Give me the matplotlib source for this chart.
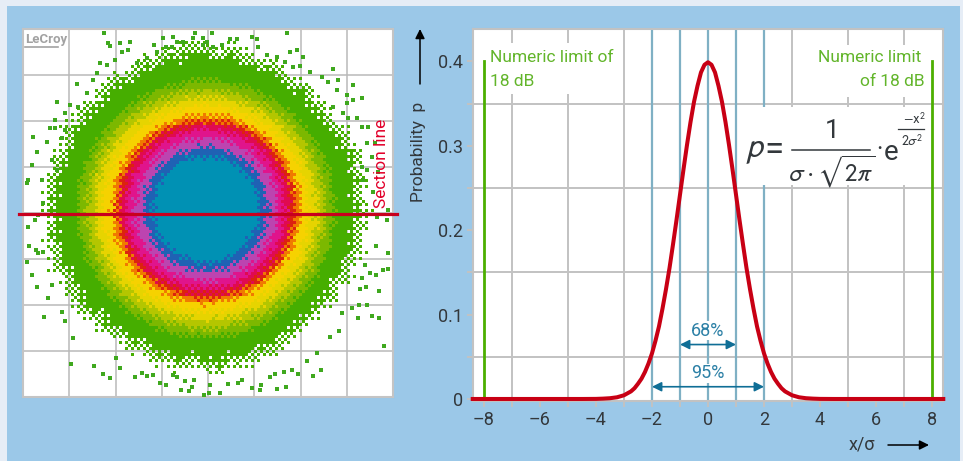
import matplotlib
matplotlib.use('Agg')
import matplotlib.pyplot as plt
from matplotlib.colors import ListedColormap
from matplotlib.patches import Rectangle
import numpy as np

W, H = 963, 461
plt.rcParams['font.family'] = ['Roboto', 'DejaVu Sans']
plt.rcParams['mathtext.fontset'] = 'stixsans'

# curve
curve_x = [-8.4, -6, -4.5, -4, -3.75, -3.5, -3.25, -3, -2.75, -2.625, -2.5, -2.375, -2.25, -2.125, -2, -1.875, -1.75, -1.625, -1.5, -1.375,
           -1.25, -1.125, -1, -0.875, -0.75, -0.625, -0.5, -0.375, -0.25, -0.125, 0,
           0.125, 0.25, 0.375, 0.5, 0.625, 0.75, 0.875, 1, 1.125, 1.25, 1.375, 1.5, 1.625, 1.75, 1.875, 2,
           2.125, 2.25, 2.375, 2.5, 2.625, 2.75, 3, 3.25, 3.5, 3.75, 4, 4.5, 6, 8.4]
curve_p = [0, 0, 0, 0.0001, 0.0004, 0.0009, 0.002, 0.0044, 0.009, 0.0127, 0.018, 0.024, 0.032, 0.042, 0.054, 0.069, 0.086, 0.107, 0.130, 0.155,
           0.183, 0.212, 0.242, 0.272, 0.301, 0.328, 0.352, 0.371, 0.387, 0.396, 0.399,
           0.396, 0.387, 0.371, 0.352, 0.328, 0.301, 0.272, 0.242, 0.212, 0.183, 0.155, 0.130, 0.107, 0.086, 0.069, 0.054,
           0.042, 0.032, 0.024, 0.018, 0.0127, 0.009, 0.0044, 0.002, 0.0009, 0.0004, 0.0001, 0, 0, 0]
x_ticks = [-8, -6, -4, -2, 0, 2, 4, 6, 8]
x_labels = ['–8', '–6', '–4', '–2', '0', '2', '4', '6', '8']
y_ticks = [0, 0.1, 0.2, 0.3, 0.4]
y_labels = ['0', '0.1', '0.2', '0.3', '0.4']

# eye diagram: colour bands, outer radius of each band in graticule units
band_radius = [53, 62, 71, 79, 85, 89, 94, 103, 111, 119, 128]
band_colors = ['#0091B4', '#1F62B4', '#BC44B0', '#E0148C', '#E00A50', '#DC2210', '#F07A00',
               '#F6D200', '#E6D400', '#B4C600', '#7CB800', '#46AE00']
# edge of the green cloud, every 5 degrees counter-clockwise from east
edge_angle = list(range(0, 361, 5))
edge_radius = [156, 151, 158, 153, 160, 154, 157, 150, 155, 152, 157, 151, 154, 159, 153, 156, 162, 155,
               160, 164, 157, 161, 155, 159, 153, 158, 156, 151, 157, 154, 159, 152, 156, 153, 158, 155,
               157, 152, 159, 154, 160, 153, 157, 155, 161, 152, 156, 150, 155, 151, 157, 153, 158, 152,
               156, 160, 153, 158, 151, 156, 149, 153, 147, 152, 149, 154, 148, 155, 150, 157, 152, 155, 156]
# stray hits outside the cloud
speck_x = [104, 108, 110, 120, 130, 128, 122, 154, 163, 173, 177, 166, 172, 183, 195, 193, 212, 203, 207, 203, 213, 222, 230, 237, 252, 257, 258, 287, 297, 290,
           300, 303, 333, 338, 353, 362, 353, 347, 77, 57, 33, 28, 27, 42,
           29, 27, 32, 37, 48, 44, 52, 62, 65, 73, 71, 94, 103, 110, 120, 116, 135, 142, 147, 153, 160, 166, 173, 177, 181, 185, 189, 192, 194, 204, 209, 220, 210, 228, 238, 242, 252, 261, 260, 270, 275, 277, 286, 284, 292, 298, 313, 321, 307, 317,
           339, 330, 342, 358, 372, 379, 384, 367, 359, 352, 379, 366, 360, 388, 376, 383, 388, 376, 370, 365, 362,
           368, 362, 357, 348, 367, 375, 372, 367, 378, 362, 363, 373, 387, 388, 377,
           50, 55, 47, 62, 65, 32, 37, 52, 57, 43, 35, 38, 28, 43, 38, 36,
           100, 97, 93, 87, 78, 70, 65, 55, 107, 115, 137, 147, 157,
           267, 277, 285, 293, 310, 322, 328, 337, 347, 333, 343]
speck_y = [33, 43, 46, 43, 42, 50, 52, 45, 38, 37, 42, 47, 47, 42, 33, 38, 33, 38, 42, 45, 47, 45, 39, 39, 37, 39, 47, 33, 50, 52,
           66, 57, 69, 80, 85, 98, 100, 95, 84, 102, 137, 180, 183, 180,
           246, 262, 275, 287, 298, 317, 285, 312, 321, 338, 364, 366, 374, 378, 368, 358, 377, 373, 376, 375, 383, 385, 375, 377, 390, 381, 391, 387, 380, 395, 393, 393, 385, 384, 383, 380, 388, 385, 390, 377, 374, 389, 387, 372, 370, 374, 376, 370, 361, 353,
           331, 337, 313, 318, 316, 318, 346, 305, 305, 308, 291, 287, 289, 253, 246, 270, 269, 275, 273, 265, 278,
           127, 127, 118, 118, 143, 143, 157, 170, 172, 167, 180, 192, 220, 210, 217,
           128, 128, 142, 138, 130, 165, 152, 160, 170, 203, 220, 215, 227, 252, 253, 250,
           63, 73, 80, 93, 107, 105, 113, 120, 65, 60, 63, 58, 52,
           55, 57, 62, 67, 72, 77, 82, 90, 103, 107, 113]
center_x, center_y = 206, 209

fig = plt.figure(figsize=(W / 100, H / 100), dpi=100, facecolor='#E6EDF6')


def px_axes(left, top, right, bottom):
    return fig.add_axes([left / W, 1 - bottom / H, (right - left) / W, (bottom - top) / H])


def px_text(x, y, s, **kw):
    fig.text(x / W, 1 - y / H, s, **kw)


fig.add_artist(Rectangle((7 / W, 0), 953 / W, 1 - 6 / H, transform=fig.transFigure, color='#9BC8E8', lw=0, zorder=-1))

# ---- left: eye diagram ----
ax1 = px_axes(23, 29, 393, 397)
ax1.set_xlim(23, 393)
ax1.set_ylim(397, 29)
ax1.set_xticks([])
ax1.set_yticks([])
for s in ax1.spines.values():
    s.set_color('#C4C4C4')
    s.set_linewidth(1.5)
for i in range(1, 8):
    ax1.axvline(23 + i * 46.25, color='#B9B9B9', lw=1.1, zorder=1)
    ax1.axhline(29 + i * 46, color='#B9B9B9', lw=1.1, zorder=1)

# ordered dither gives the blocky look of the band edges
bayer = np.array([[0, 32, 8, 40, 2, 34, 10, 42], [48, 16, 56, 24, 50, 18, 58, 26],
                  [12, 44, 4, 36, 14, 46, 6, 38], [60, 28, 52, 20, 62, 30, 54, 22],
                  [3, 35, 11, 43, 1, 33, 9, 41], [51, 19, 59, 27, 49, 17, 57, 25],
                  [15, 47, 7, 39, 13, 45, 5, 37], [63, 31, 55, 23, 61, 29, 53, 21]]) / 63 - 0.5
step = 3
xe = np.arange(23, 394, step)
ye = np.arange(29, 398, step)
xc, yc = np.meshgrid(xe[:-1] + step / 2, ye[:-1] + step / 2)
ix = ((xc - 23) / step).astype(int) % 8
iy = ((yc - 29) / step).astype(int) % 8
d = bayer[iy, ix]
r = np.hypot(xc - center_x, yc - center_y)
ang = np.degrees(np.arctan2(center_y - yc, xc - center_x)) % 360
bands = np.searchsorted(band_radius, r + 8 * d).astype(float)
bands[r + 22 * d > np.interp(ang, edge_angle, edge_radius)] = np.nan
ax1.pcolormesh(xe, ye, np.ma.masked_invalid(bands), cmap=ListedColormap(band_colors),
               vmin=-0.5, vmax=len(band_colors) - 0.5, zorder=2, linewidth=0, rasterized=True)
ax1.scatter(speck_x, speck_y, marker='s', s=10, color='#3FA81E', linewidths=0, zorder=3)

ax1.plot([19, 397], [213.5, 213.5], color='#C8001E', lw=2.3, clip_on=False, zorder=5)
ax1.text(381, 208, 'Section line', rotation=90, color='#E2002A', fontsize=12.5, ha='center', va='bottom', zorder=6)
ax1.text(25, 39, 'LeCroy', color='#A2A2A2', fontsize=9.5, fontweight='bold', ha='left', va='center', zorder=4)
ax1.plot([25, 58], [47, 47], color='#A2A2A2', lw=1.2, zorder=4)

# ---- right: distribution ----
ax2 = px_axes(473, 29, 943, 401)
ax2.set_xlim(-8.39, 8.39)
ax2.set_ylim(-0.0024, 0.4384)
ax2.set_axisbelow(True)
ax2.set_xticks(np.arange(-8, 9, 1), minor=True)
ax2.set_yticks(np.arange(0, 0.44, 0.05), minor=True)
ax2.grid(which='minor', color='#C2C2C2', lw=1.4)
ax2.tick_params(which='minor', color='#C2C2C2', width=1.4, length=4)
ax2.set_xticks(x_ticks, x_labels)
ax2.set_yticks(y_ticks, y_labels)
ax2.tick_params(which='major', color='#C2C2C2', width=1.4, length=4, labelsize=13, labelcolor='#33383C', pad=3)
for s in ax2.spines.values():
    s.set_color('#C2C2C2')
    s.set_linewidth(1.5)

for v in [-2, -1, 0, 1, 2]:
    ax2.axvline(v, color='#7FB0C4', lw=1.6, zorder=1.5)

# white patches behind the labels
for x0, x1, y0, y1 in [(-7.93, -3.14, 0.361, 0.422), (3.43, 7.93, 0.358, 0.419), (1.18, 7.8, 0.2536, 0.346)]:
    ax2.add_patch(Rectangle((x0, y0), x1 - x0, y1 - y0, color='white', lw=0, zorder=2))

ax2.plot([-8, -8], [0, 0.4], color='#4CAF00', lw=2, zorder=3)
ax2.plot([8, 8], [0, 0.4], color='#4CAF00', lw=2, zorder=3)
ax2.plot(curve_x, curve_p, color='#C80014', lw=2.9, clip_on=False, zorder=5, solid_joinstyle='round')

px_text(490, 57, 'Numeric limit of', color='#62B52A', fontsize=12.5, ha='left', va='center')
px_text(490, 81, '18 dB', color='#62B52A', fontsize=12.5, ha='left', va='center')
px_text(921, 57, 'Numeric limit', color='#62B52A', fontsize=12.5, ha='right', va='center')
px_text(925, 81, 'of 18 dB', color='#62B52A', fontsize=12.5, ha='right', va='center')

# percentage arrows
for lo, hi, y, label, ty in [(-1, 1, 0.0645, '68%', 0.081), (-2, 2, 0.0145, '95%', 0.0305)]:
    ax2.annotate('', xy=(lo, y), xytext=(hi, y), zorder=6,
                 arrowprops=dict(arrowstyle='<|-|>', color='#0F6E96', lw=1.2, mutation_scale=14, shrinkA=0, shrinkB=0))
    ax2.text(0, ty, label, color='#2C80A6', fontsize=13, ha='center', va='center', zorder=6,
             bbox=dict(facecolor='white', edgecolor='none', pad=0.5))

# axis captions
px_text(419, 152, 'Probability  p', rotation=90, color='#33383C', fontsize=12.5, ha='center', va='center')
px_text(862, 444, 'x/σ', color='#33383C', fontsize=13, ha='center', va='center')

overlay = fig.add_axes([0, 0, 1, 1], facecolor='none')
overlay.set_xlim(0, W)
overlay.set_ylim(H, 0)
overlay.axis('off')
overlay.annotate('', xy=(929, 445), xytext=(888, 445),
                 arrowprops=dict(arrowstyle='-|>', color='black', lw=1.1, mutation_scale=14, shrinkA=0, shrinkB=0))
overlay.annotate('', xy=(420, 29), xytext=(420, 84),
                 arrowprops=dict(arrowstyle='-|>', color='black', lw=1.1, mutation_scale=14, shrinkA=0, shrinkB=0))

# formula, set piece by piece so it can fill its white box
ink = '#33383C'
overlay.text(745, 150, r'$p$', color=ink, fontsize=24, ha='left', va='center')
overlay.text(774, 150, '=', color=ink, fontsize=25, ha='center', va='center')
overlay.text(832, 131, '1', color=ink, fontsize=19, ha='center', va='center')
overlay.plot([792, 870], [150, 150], color=ink, lw=1.1)
overlay.text(832, 172, r'$\sigma\cdot\sqrt{2\pi}$', color=ink, fontsize=18, ha='center', va='center')
overlay.text(879, 150, '·', color=ink, fontsize=18, ha='center', va='center')
overlay.text(891, 152, 'e', color=ink, fontsize=20, ha='center', va='center')
overlay.text(914, 119, r'$-\mathrm{x}^2$', color=ink, fontsize=10, ha='center', va='center')
overlay.plot([898, 924], [129, 129], color=ink, lw=0.9)
overlay.text(912, 141, r'$2\sigma^2$', color=ink, fontsize=10, ha='center', va='center')

fig.savefig('out.png', dpi=100, facecolor=fig.get_facecolor())
